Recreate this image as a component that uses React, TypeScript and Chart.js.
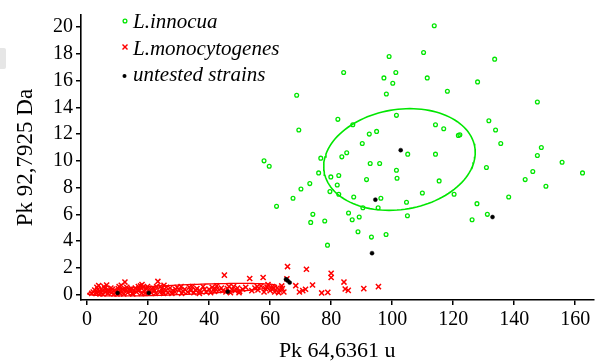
import { useEffect, useRef } from "react";
import { Chart, registerables } from "chart.js";

Chart.register(...registerables);

// ---- data ----
const innocuaPoints: [number, number][] = [
  [113.8, 20.1], [110.3, 18.1], [99.0, 17.8], [133.6, 17.6], [84.1, 16.6], [101.2, 16.6],
  [97.3, 16.2], [100.2, 15.8], [111.5, 16.2], [128.0, 15.9], [98.1, 15.0], [118.1, 15.2],
  [68.7, 14.9], [147.6, 14.4], [82.2, 13.1], [101.4, 13.4], [131.7, 13.0],
  [69.4, 12.3], [87.1, 12.7], [94.9, 12.2], [92.5, 12.0], [114.2, 12.7], [116.9, 12.4],
  [121.7, 11.9], [122.2, 11.95], [133.9, 12.3], [135.6, 11.3], [90.2, 11.3], [148.9, 11.0],
  [147.6, 10.4], [155.7, 9.9], [162.4, 9.1], [85.1, 10.6], [83.5, 10.3], [76.6, 10.2],
  [58.0, 10.0], [59.7, 9.6], [105.1, 10.5], [114.2, 10.5], [92.8, 9.8], [95.9, 9.8],
  [101.4, 9.3], [101.6, 8.7], [91.6, 8.6], [75.9, 9.1], [79.9, 8.8], [82.5, 8.9],
  [82.0, 8.2], [73.0, 8.3], [70.1, 7.9], [79.6, 7.7], [82.5, 7.5], [67.5, 7.2],
  [62.1, 6.6], [87.4, 7.3], [96.3, 7.2], [104.7, 6.9], [109.9, 7.6], [115.4, 8.5],
  [120.3, 7.5], [130.9, 9.5], [146.1, 9.2], [143.6, 8.6], [150.4, 8.1], [138.2, 7.3],
  [127.8, 6.8], [131.2, 6.0], [126.2, 5.6], [90.4, 6.5], [95.4, 6.5], [105.0, 5.9],
  [85.7, 6.1], [89.2, 5.8], [86.9, 5.6], [74.0, 6.0], [77.9, 5.5], [73.3, 5.4],
  [88.8, 4.7], [93.2, 4.3], [98.0, 4.5], [78.8, 3.7],
];

const monocytogenesPoints: [number, number][] = [
  [2, 0.2], [2.5, 0.35], [3, 0.1], [3.5, 0.4], [4, 0.25], [4.5, 0.15], [5, 0.3], [5.2, 0.05],
  [5.8, 0.45], [6, 0.2], [6.4, 0.72], [6.8, 0.1], [7, 0.35], [7.5, 0.25], [8, 0.15], [8.3, 0.4],
  [8.8, 0.05], [9, 0.3], [9.5, 0.2], [10.2, 0.45], [10.8, 0.1], [11, 0.3], [11.5, 0.2], [12, 0.05],
  [12.4, 0.94], [12.8, 0.35], [13.3, 0.15], [13.8, 0.4], [14.2, 0.25], [14.8, 0.1], [15.3, 0.3],
  [15.8, 0.5], [16.2, 0.2], [16.8, 0.6], [17.2, 0.35], [17.8, 0.1], [18.3, 0.55], [18.8, 0.25],
  [19.3, 0.45], [20.5, 0.3], [21, 0.15], [21.6, 0.5], [22.2, 0.3], [22.8, 0.6], [23.2, 0.99],
  [23.8, 0.2], [24.5, 0.45], [25.2, 0.7], [25.8, 0.3], [26.5, 0.15], [27.2, 0.5], [28, 0.3],
  [28.8, 0.2], [29.5, 0.55], [30.2, 0.35], [31, 0.1], [32, 0.4], [33, 0.2], [34, 0.3], [35, 0.15],
  [36, 0.45], [37, 0.3], [38, 0.6], [39, 0.2], [40, 0.4], [41, 0.55], [41.8, 0.25], [42.5, 0.65],
  [43.3, 0.35], [44, 0.5], [45, 1.46], [45.5, 0.2], [46.5, 0.6], [47.5, 0.4], [48.5, 0.3],
  [49.3, 0.5], [50, 0.25], [53.3, 1.21], [55, 0.5], [56, 0.35], [57, 0.65], [57.7, 1.28],
  [58.5, 0.45], [59.3, 0.75], [60, 0.3], [60.8, 0.6], [61.5, 0.2], [62.3, 0.5], [63, 0.35],
  [63.8, 0.65], [64.5, 0.2],
  [1.5, 0.1], [3.2, 0.55], [4.2, 0.05], [5.5, 0.6], [6.6, 0.3], [7.8, 0.5], [9.8, 0.05],
  [10.5, 0.6], [11.8, 0.4], [13, 0.55], [14.5, 0.45], [15, 0.05], [16.5, 0.35], [17.5, 0.65],
  [19, 0.1], [19.8, 0.6], [21.3, 0.4], [22.5, 0.1], [24, 0.6], [25, 0.1], [26, 0.55],
  [27.8, 0.1], [29, 0.4], [30.8, 0.6], [31.5, 0.25], [33.5, 0.55], [35.5, 0.35], [36.8, 0.1],
  [38.5, 0.4], [40.5, 0.15], [42, 0.45], [44.5, 0.3], [46, 0.45], [48, 0.6], [49.8, 0.15],
  [52, 0.55], [54, 0.3], [55.8, 0.6], [58, 0.2], [59, 0.55], [61, 0.45], [62.8, 0.15],
  [64, 0.45], [3.8, 0.68], [11.2, 0.7], [18, 0.75], [24.8, 0.25], [34.5, 0.6], [47, 0.15],
  [51, 0.4],
  [65.5, 1.18], [65.7, 2.1], [68.4, 0.67], [69.6, 0.2], [70.7, 0.3], [71.6, 0.4], [71.9, 1.9],
  [73.9, 0.72], [76.9, 0.13], [78.9, 0.17], [80, 1.6], [80, 1.28], [84.2, 0.94], [84.6, 0.42],
  [85.6, 0.32], [90.7, 0.45], [95.5, 0.6],
];

const untestedPoints: [number, number][] = [
  [10.0, 0.13], [20.2, 0.13], [46.1, 0.22], [65.2, 1.15], [65.7, 1.05], [66.4, 0.9],
  [102.8, 10.8], [94.5, 7.1], [132.9, 5.8], [93.4, 3.1],
];

// confidence ellipses: centre, cosine axis vector, sine axis vector (data units)
const innocuaEllipseCenter = [102.4, 10.1];
const innocuaEllipseCos = [3.4, 3.8];
const innocuaEllipseSin = [24.6, 0];
const monoEllipseCenter = [31.2, 0.37];
const monoEllipseCos = [0, 0.36];
const monoEllipseSin = [31.0, 0.3];

const legendLabels = ["L.innocua", "L.monocytogenes", "untested strains"];
const xTitle = "Pk 64,6361 u";
const yTitle = "Pk 92,7925 Da";

const GREEN = "rgb(0,230,0)";
const RED = "rgb(255,0,0)";
const SERIF = '"Liberation Serif", "Times New Roman", serif';

function ellipse(c: number[], a: number[], b: number[]) {
  const pts: { x: number; y: number }[] = [];
  const n = 120;
  for (let i = 0; i <= n; i++) {
    const t = (2 * Math.PI * i) / n;
    pts.push({
      x: c[0] + a[0] * Math.cos(t) + b[0] * Math.sin(t),
      y: c[1] + a[1] * Math.cos(t) + b[1] * Math.sin(t),
    });
  }
  return pts;
}

const toXY = (arr: [number, number][]) => arr.map(([x, y]) => ({ x, y }));

export default function App() {
  const ref = useRef<HTMLCanvasElement>(null);
  useEffect(() => {
    if (!ref.current) return;
    const axisCommon = (size: number) => ({
      ticks: { color: "#000", font: { family: SERIF, size } },
      grid: {
        display: true,
        drawOnChartArea: false,
        drawTicks: true,
        tickLength: 5,
        color: "#000",
        lineWidth: 1.5,
      },
      border: { display: true, color: "#000", width: 1.6 },
    });
    const xc = axisCommon(20);
    const yc = axisCommon(20);
    const chart = new Chart(ref.current, {
      type: "scatter",
      data: {
        datasets: [
          {
            label: legendLabels[2],
            data: toXY(untestedPoints),
            pointStyle: "circle",
            pointRadius: 2,
            pointBackgroundColor: "#000",
            pointBorderColor: "#000",
            pointBorderWidth: 0.5,
          },
          {
            label: legendLabels[1],
            data: toXY(monocytogenesPoints),
            pointStyle: "crossRot",
            pointRadius: 3.6,
            pointBorderColor: RED,
            pointBorderWidth: 1.5,
          },
          {
            label: legendLabels[0],
            data: toXY(innocuaPoints),
            pointStyle: "circle",
            pointRadius: 1.9,
            pointBackgroundColor: "rgba(0,0,0,0)",
            pointBorderColor: GREEN,
            pointBorderWidth: 1.3,
          },
          {
            label: "innocua ellipse",
            data: ellipse(innocuaEllipseCenter, innocuaEllipseCos, innocuaEllipseSin),
            showLine: true,
            pointRadius: 0,
            borderColor: GREEN,
            borderWidth: 1.6,
            fill: false,
          },
          {
            label: "monocytogenes ellipse",
            data: ellipse(monoEllipseCenter, monoEllipseCos, monoEllipseSin),
            showLine: true,
            pointRadius: 0,
            borderColor: RED,
            borderWidth: 1.3,
            fill: false,
          },
        ],
      },
      options: {
        animation: false,
        responsive: false,
        maintainAspectRatio: false,
        events: [],
        layout: { padding: { top: 12, right: 2, left: 0, bottom: 0 } },
        plugins: { legend: { display: false }, tooltip: { enabled: false } },
        scales: {
          x: {
            type: "linear",
            min: -2,
            max: 166,
            ...xc,
            ticks: { ...xc.ticks, stepSize: 20, includeBounds: false, padding: 3, maxRotation: 0 },
            title: {
              display: true,
              text: xTitle,
              color: "#000",
              font: { family: SERIF, size: 22 },
              padding: { top: 0, bottom: 0 },
            },
            afterFit: (s: any) => {
              s.height = 64;
            },
          },
          y: {
            type: "linear",
            min: -0.4,
            max: 20.9,
            ...yc,
            ticks: { ...yc.ticks, stepSize: 2, includeBounds: false, padding: 3 },
            title: {
              display: true,
              text: yTitle,
              color: "#000",
              font: { family: SERIF, size: 23 },
              padding: { top: 12, bottom: 0 },
            },
            afterFit: (s: any) => {
              s.width = 81;
            },
          },
        },
      },
    } as any);
    return () => chart.destroy();
  }, []);

  return (
    <div style={{ position: "absolute", left: 0, top: 0, width: 599, height: 364, background: "#fff" }}>
      <div
        style={{
          position: "absolute",
          left: 0,
          top: 48,
          width: 6,
          height: 21,
          background: "#e6e6e6",
          borderRadius: "0 2px 2px 0",
        }}
      />
      <canvas ref={ref} width={599} height={364} style={{ position: "absolute", left: 0, top: 0 }} />
      <svg
        width={599}
        height={364}
        style={{ position: "absolute", left: 0, top: 0, pointerEvents: "none" }}
      >
        <circle cx={125} cy={21} r={1.9} fill="none" stroke={GREEN} strokeWidth={1.3} />
        <line x1={122.5} y1={44.5} x2={127.5} y2={49.5} stroke={RED} strokeWidth={1.4} />
        <line x1={122.5} y1={49.5} x2={127.5} y2={44.5} stroke={RED} strokeWidth={1.4} />
        <circle cx={124.5} cy={76} r={2} fill="#000" />
        {legendLabels.map((t, i) => (
          <text
            key={t}
            x={133}
            y={28 + i * 26.6}
            fontFamily={SERIF}
            fontStyle="italic"
            fontSize={21}
            fill="#000"
          >
            {t}
          </text>
        ))}
      </svg>
    </div>
  );
}
